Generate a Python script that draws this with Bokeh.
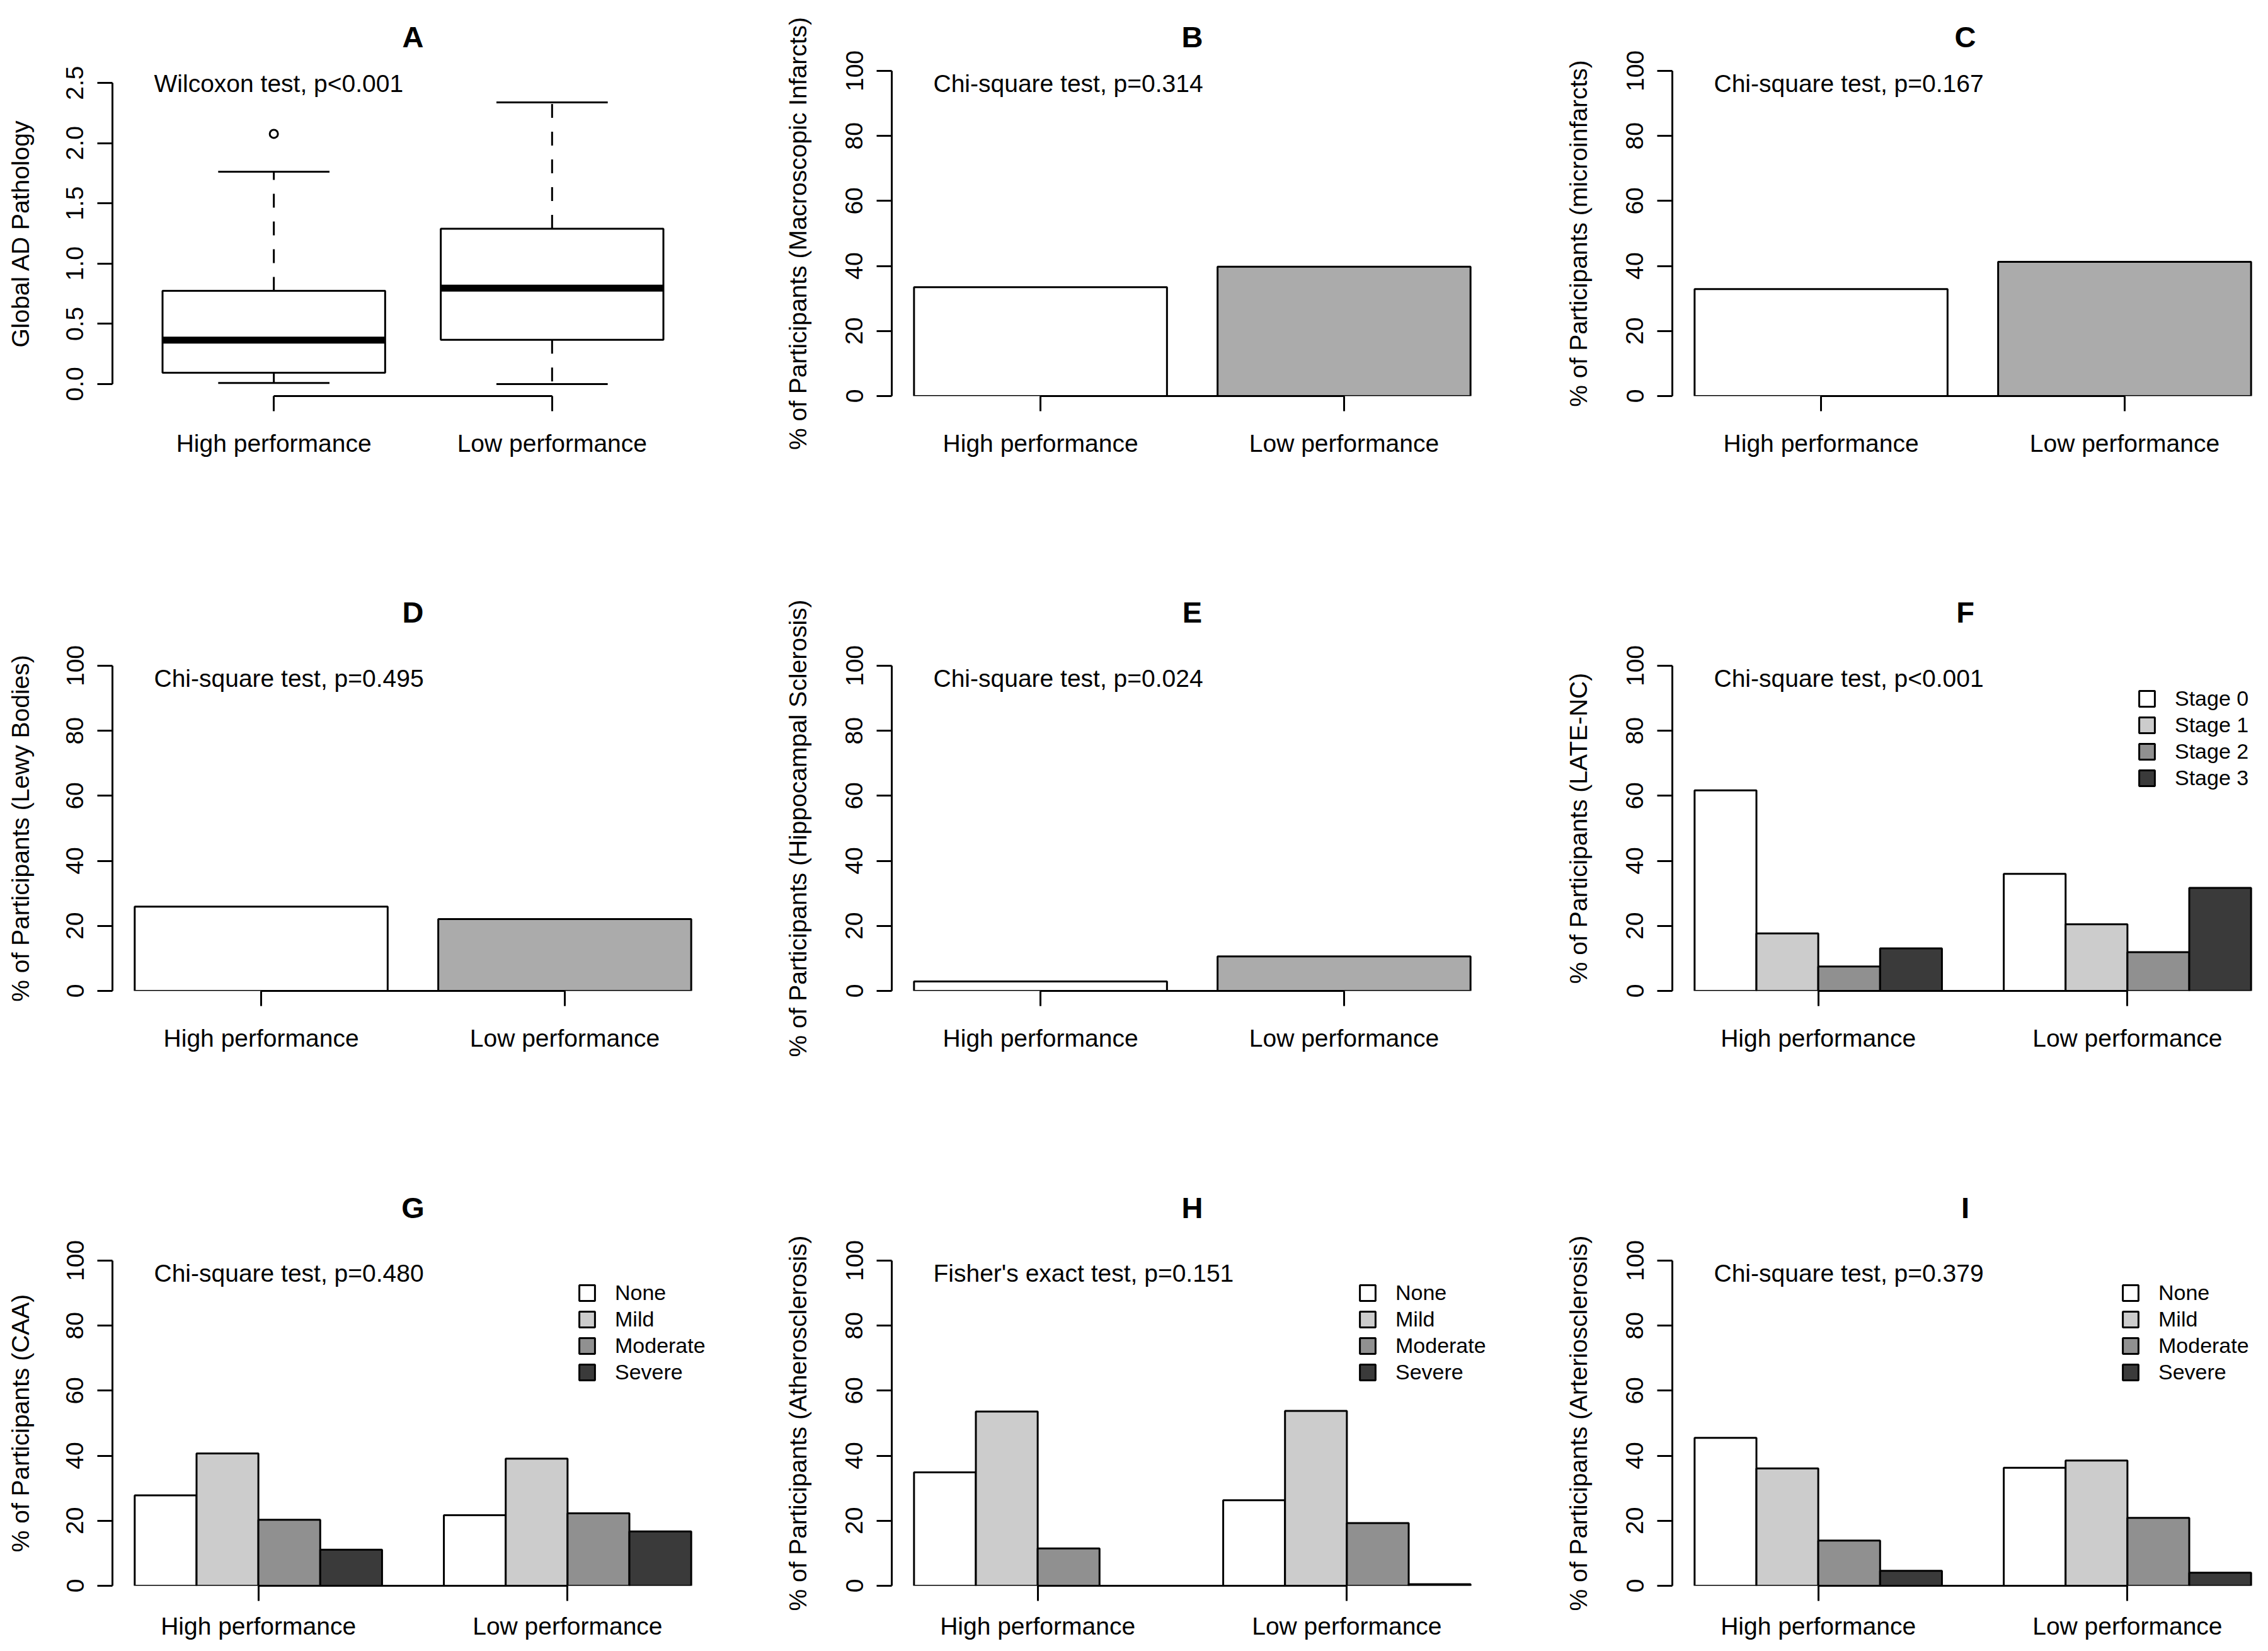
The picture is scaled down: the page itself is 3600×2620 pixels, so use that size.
from bokeh.plotting import figure
from bokeh.models import (ColumnDataSource, FixedTicker, Range1d, Label, Legend,
                          LegendItem, NumeralTickFormatter)
from bokeh.layouts import row, column
from bokeh.embed import file_html
from bokeh.resources import INLINE

# ---------------- data ----------------
groups = ["High performance", "Low performance"]

# Panel A: Global AD pathology box plot summary (per group)
box_lower = [0.008, 0.000]
box_q1 = [0.094, 0.367]
box_median = [0.364, 0.796]
box_q3 = [0.774, 1.289]
box_upper = [1.763, 2.339]
outlier_group = [0]
outlier_value = [2.077]

# Panels B-E: % of participants (two bars)
macro_infarcts = [33.5, 39.8]
micro_infarcts = [32.9, 41.3]
lewy_bodies = [25.9, 22.1]
hippo_sclerosis = [2.9, 10.6]

# Panel F: LATE-NC stages
late_levels = ["Stage 0", "Stage 1", "Stage 2", "Stage 3"]
late_high = [61.7, 17.7, 7.5, 13.1]
late_low = [36.0, 20.5, 11.9, 31.7]

# Panels G-I: severity
sev_levels = ["None", "Mild", "Moderate", "Severe"]
caa_high = [27.8, 40.7, 20.3, 11.1]
caa_low = [21.7, 39.1, 22.3, 16.7]
ath_high = [34.9, 53.6, 11.5, 0.0]
ath_low = [26.3, 53.8, 19.3, 0.5]
art_high = [45.5, 36.1, 13.9, 4.6]
art_low = [36.3, 38.5, 20.9, 4.0]

bar_ticks = [0, 20, 40, 60, 80, 100]
box_ticks = [0.0, 0.5, 1.0, 1.5, 2.0, 2.5]

# ---------------- style / layout ----------------
FONT = "Liberation Sans"
TXT = "39px"
two_fill = ["#FFFFFF", "#ABABAB"]
group_fill = ["#FFFFFF", "#CCCCCC", "#909090", "#3A3A3A"]

COL_W = [1192, 1200, 1192]
ROW_H = [792, 944, 868]
BORDER_L = [178, 223, 262]
BORDER_R = [60, 23, 0]
BORDER_T = [112, 264, 264]
BORDER_B = [164, 164, 87]
FULL_FRAME_W = 954
YLAB_STANDOFF = [49, 52, 52]
XLAB_STANDOFF = [29, 29, 18]
TITLE_STANDOFF = [56, 117, 116]
STAT_DX = 66
LEG_PAD = 19
LEG_ITEM_H = 42
LEG_TOP_GAP = -7
LEGEND_X = {"F": 738, "G": 738, "H": 740, "I": 712}


def make_panel(r, c, letter, xlim, ylim):
    frame_w = COL_W[c] - BORDER_L[c] - BORDER_R[c]
    x_end = xlim[0] + (xlim[1] - xlim[0]) * frame_w / FULL_FRAME_W
    p = figure(width=COL_W[c], height=ROW_H[r],
               x_range=Range1d(xlim[0], x_end), y_range=Range1d(ylim[0], ylim[1]),
               min_border_left=BORDER_L[c], min_border_right=BORDER_R[c],
               min_border_top=BORDER_T[r], min_border_bottom=BORDER_B[r],
               output_backend="svg", toolbar_location=None, tools="")
    p.outline_line_color = None
    p.xgrid.visible = False
    p.ygrid.visible = False
    p.background_fill_color = "white"
    p.border_fill_color = "white"
    p.title.text = letter
    p.title.align = "center"
    p.title.text_font = FONT
    p.title.text_font_size = "47px"
    p.title.text_font_style = "bold"
    p.title.text_color = "black"
    p.title.standoff = TITLE_STANDOFF[r]
    p.title.offset = (FULL_FRAME_W - frame_w) / 2
    return p


def style_axes(p, r, c, yticks, xticks, xlabels, ylabel):
    xa = p.xaxis[0]
    ya = p.yaxis[0]
    for ax in (xa, ya):
        ax.axis_line_width = 3
        ax.axis_line_color = "black"
        ax.major_tick_line_width = 3
        ax.major_tick_line_color = "black"
        ax.major_tick_in = 0
        ax.major_tick_out = 24
        ax.minor_tick_line_color = None
        ax.major_label_text_font = FONT
        ax.major_label_text_font_size = TXT
        ax.major_label_text_color = "black"
        ax.axis_label_text_font = FONT
        ax.axis_label_text_font_size = TXT
        ax.axis_label_text_font_style = "normal"
        ax.axis_label_text_color = "black"
    ya.ticker = FixedTicker(ticks=yticks)
    ya.bounds = (yticks[0], yticks[-1])
    ya.major_label_orientation = "vertical"
    ya.major_label_standoff = 22
    ya.axis_label = ylabel
    ya.axis_label_standoff = YLAB_STANDOFF[c]
    xa.ticker = FixedTicker(ticks=xticks)
    xa.bounds = (xticks[0], xticks[-1])
    xa.major_label_overrides = {t: l for t, l in zip(xticks, xlabels)}
    xa.major_label_standoff = XLAB_STANDOFF[r]


def add_stat(p, stat, xlim, ylim):
    p.add_layout(Label(x=xlim[0], y=ylim[1], x_offset=STAT_DX, y_offset=-20, text=stat,
                       text_align="left", text_baseline="middle", text_font=FONT,
                       text_font_size=TXT, text_color="black"))


def box_panel(r, c, letter, stat, ylabel):
    centers = [i + 1 for i in range(len(groups))]
    xlim = (0.5 - 0.04 * (len(groups)), len(groups) + 0.5 + 0.04 * len(groups))
    ylim = (box_ticks[0] - 0.04 * (box_ticks[-1] - box_ticks[0]),
            box_ticks[-1] + 0.04 * (box_ticks[-1] - box_ticks[0]))
    p = make_panel(r, c, letter, xlim, ylim)
    half = 0.4
    src = ColumnDataSource(dict(
        x=centers, left=[x - half for x in centers], right=[x + half for x in centers],
        sl=[x - half / 2 for x in centers], sr=[x + half / 2 for x in centers],
        lower=box_lower, q1=box_q1, med=box_median, q3=box_q3, upper=box_upper))
    p.segment(x0="x", x1="x", y0="q3", y1="upper", source=src, line_color="black",
              line_width=3, line_dash="22 22")
    p.segment(x0="x", x1="x", y0="q1", y1="lower", source=src, line_color="black",
              line_width=3, line_dash="22 22")
    p.quad(left="left", right="right", bottom="q1", top="q3", source=src,
           fill_color="white", line_color="black", line_width=3)
    p.segment(x0="left", x1="right", y0="med", y1="med", source=src, line_color="black",
              line_width=11, line_cap="butt")
    p.segment(x0="sl", x1="sr", y0="upper", y1="upper", source=src, line_color="black", line_width=3)
    p.segment(x0="sl", x1="sr", y0="lower", y1="lower", source=src, line_color="black", line_width=3)
    p.scatter(x=[centers[g] for g in outlier_group], y=outlier_value, marker="circle", size=13,
              fill_color=None, line_color="black", line_width=3)
    style_axes(p, r, c, box_ticks, centers, groups, ylabel)
    p.yaxis[0].formatter = NumeralTickFormatter(format="0.0")
    add_stat(p, stat, xlim, ylim)
    return p


def two_bar_panel(r, c, letter, stat, ylabel, vals):
    width, space = 1.0, 0.2
    left = [space + i * (width + space) for i in range(len(vals))]
    right = [l + width for l in left]
    centers = [l + width / 2 for l in left]
    ext = 0.04 * (right[-1] - left[0])
    xlim = (left[0] - ext, right[-1] + ext)
    ylim = (bar_ticks[0], bar_ticks[-1])
    p = make_panel(r, c, letter, xlim, ylim)
    src = ColumnDataSource(dict(left=left, right=right, top=vals, bottom=[0] * len(vals),
                                fill=two_fill[:len(vals)]))
    p.quad(left="left", right="right", bottom="bottom", top="top", source=src,
           fill_color="fill", line_color="black", line_width=3)
    style_axes(p, r, c, bar_ticks, centers, groups, ylabel)
    add_stat(p, stat, xlim, ylim)
    return p


def group_bar_panel(r, c, letter, stat, ylabel, levels, high, low):
    n = len(levels)
    left, top, fill = [], [], []
    centers = []
    for g, vals in enumerate([high, low]):
        start = 1 + g * (n + 1)
        centers.append(start + n / 2)
        for j, v in enumerate(vals):
            left.append(start + j)
            top.append(v)
            fill.append(group_fill[j])
    right = [l + 1 for l in left]
    ext = 0.04 * (right[-1] - left[0])
    xlim = (left[0] - ext, right[-1] + ext)
    ylim = (bar_ticks[0], bar_ticks[-1])
    p = make_panel(r, c, letter, xlim, ylim)
    src = ColumnDataSource(dict(left=left, right=right, top=top, bottom=[0] * len(top), fill=fill))
    rend = p.quad(left="left", right="right", bottom="bottom", top="top", source=src,
                  fill_color="fill", line_color="black", line_width=3)
    style_axes(p, r, c, bar_ticks, centers, groups, ylabel)
    add_stat(p, stat, xlim, ylim)
    frame_h = ROW_H[r] - BORDER_T[r] - BORDER_B[r]
    leg_h = 2 * LEG_PAD + n * LEG_ITEM_H
    items = [LegendItem(label=lv, renderers=[rend], index=j) for j, lv in enumerate(levels)]
    leg = Legend(items=items, location=(LEGEND_X[letter], frame_h - leg_h - LEG_TOP_GAP),
                 margin=0, padding=LEG_PAD,
                 glyph_width=31, glyph_height=31, label_standoff=29, spacing=0,
                 label_height=LEG_ITEM_H, label_text_font=FONT, label_text_font_size="34px",
                 label_text_color="black", border_line_color=None, background_fill_alpha=0)
    p.add_layout(leg)
    return p


pA = box_panel(0, 0, "A", "Wilcoxon test, p<0.001", "Global AD Pathology")
pB = two_bar_panel(0, 1, "B", "Chi-square test, p=0.314",
                   "% of Participants (Macroscopic Infarcts)", macro_infarcts)
pC = two_bar_panel(0, 2, "C", "Chi-square test, p=0.167",
                   "% of Participants (microinfarcts)", micro_infarcts)
pD = two_bar_panel(1, 0, "D", "Chi-square test, p=0.495",
                   "% of Participants (Lewy Bodies)", lewy_bodies)
pE = two_bar_panel(1, 1, "E", "Chi-square test, p=0.024",
                   "% of Participants (Hippocampal Sclerosis)", hippo_sclerosis)
pF = group_bar_panel(1, 2, "F", "Chi-square test, p<0.001",
                     "% of Participants (LATE-NC)", late_levels, late_high, late_low)
pG = group_bar_panel(2, 0, "G", "Chi-square test, p=0.480",
                     "% of Participants (CAA)", sev_levels, caa_high, caa_low)
pH = group_bar_panel(2, 1, "H", "Fisher's exact test, p=0.151",
                     "% of Participants (Atherosclerosis)", sev_levels, ath_high, ath_low)
pI = group_bar_panel(2, 2, "I", "Chi-square test, p=0.379",
                     "% of Participants (Arteriosclerosis)", sev_levels, art_high, art_low)

layout = column(row(pA, pB, pC), row(pD, pE, pF), row(pG, pH, pI))
open("out.html", "w").write(file_html(layout, INLINE))
